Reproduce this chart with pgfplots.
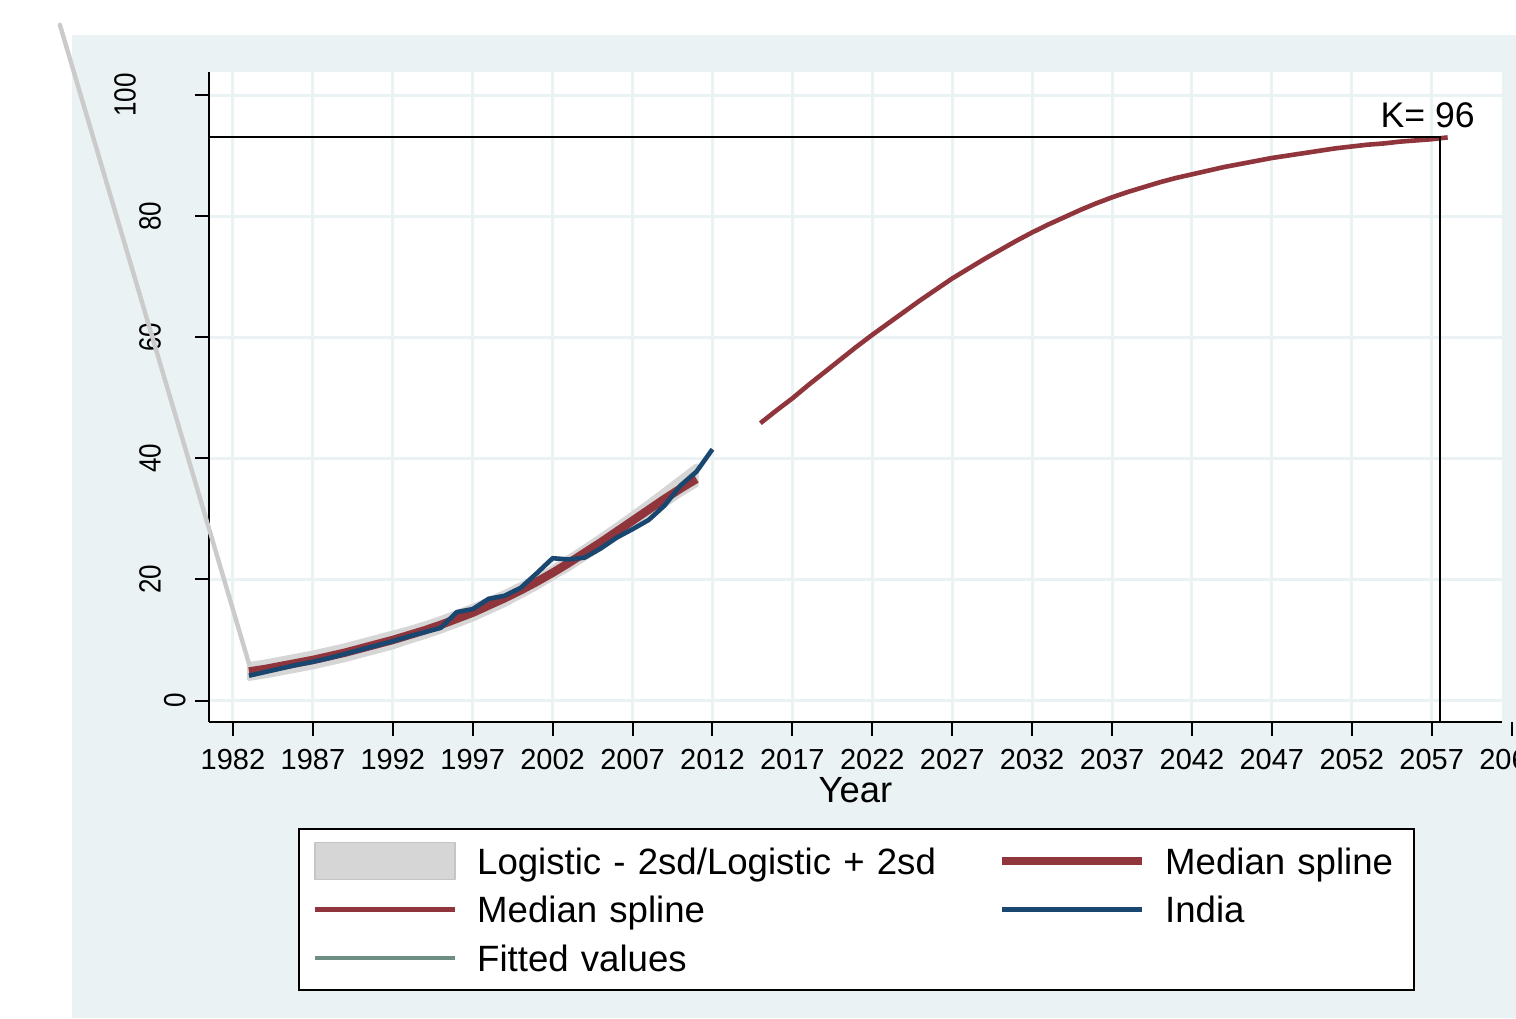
\documentclass[border=0pt]{standalone}
\usepackage{fontspec}
\setmainfont{Liberation Sans}
\usepackage{pgfplots}
\pgfplotsset{compat=1.18}

\definecolor{bgblue}{HTML}{EAF2F3}
\definecolor{stmaroon}{HTML}{90353B}
\definecolor{stnavy}{HTML}{1A476F}
\definecolor{stteal}{HTML}{6E8E84}
\definecolor{bandgray}{HTML}{D6D6D6}

% y tick labels: Stata sets them upright-stretched and staggered
\newcommand{\ylab}[2]{\raisebox{#1}{\scalebox{1}[1.18]{#2}}}

\begin{document}
\begin{tikzpicture}
\useasboundingbox (0,0) rectangle (758pt,-509pt);
\fill[white] (0,0) rectangle (758pt,-509pt);
\fill[bgblue] (36pt,-17.5pt) rectangle (758pt,-509pt);
\begin{axis}[
  at={(104.5pt,-361pt)}, anchor=south west,
  scale only axis, width=646.5pt, height=325pt,
  xmin=1980.5, xmax=2061.4, ymin=-3.55, ymax=103.8,
  clip=false,
  axis background/.style={fill=white},
  axis x line*=bottom, axis y line*=left,
  axis line style={-, black, line width=1pt},
  tick align=outside, major tick length=7pt,
  tick style={black, line width=1pt},
  grid=major, major grid style={bgblue, line width=1.5pt},
  xtick={1982,1987,...,2057},
  ytick={0,20,...,100},
  yticklabels={\ylab{0pt}{0},\ylab{12.5pt}{20},\ylab{12.5pt}{40},\ylab{12.5pt}{60},\ylab{12.5pt}{80},\ylab{25pt}{100}},
  /pgf/number format/1000 sep={},
  /pgf/number format/assume math mode=true,
  xticklabel style={font=\fontsize{14.5}{17}\selectfont, anchor=base, inner sep=0pt, yshift=-16.75pt},
  yticklabel style={font=\fontsize{13}{16}\selectfont, inner sep=0pt, xshift=-4.5pt, rotate=90, anchor=south},
  xlabel={Year},
  xlabel style={at={(axis description cs:0.5,0)}, anchor=base, inner sep=0pt, yshift=-40.25pt, font=\fontsize{18.2}{21}\selectfont},
  legend columns=2,
  legend image code/.code={\draw[#1] (0pt,0pt) -- (70pt,0pt);},
  legend style={at={(axis description cs:0.0696,-0.1646)}, anchor=north west,
    draw=black, line width=1pt, fill=white, outer sep=0pt,
    inner xsep=6.9pt, inner ysep=6.35pt, row sep=4.95pt,
    font=\fontsize{18.3}{22}\selectfont,
    cells={anchor=west},
    nodes={inner sep=0pt, text height=16.25pt, text depth=3.05pt},
    /tikz/column 1/.style={column sep=9.9pt},
    /tikz/column 2/.style={nodes={text width=260.4pt}},
    /tikz/column 3/.style={column sep=9.4pt},
    /tikz/column 4/.style={nodes={text width=117.6pt}}},
]
% confidence band (upper edge forward, lower edge back)
\addplot[fill=bandgray, draw=bandgray, line width=2.2pt, line join=round,
  legend image code/.code={\draw[fill=bandgray, draw=bandgray!92!black, line width=0.8pt] (0pt,-9.25pt) rectangle (70pt,9.25pt);}]
coordinates {
(1983,6.0) (1984,6.4) (1985,6.9) (1986,7.4) (1987,7.9) (1988,8.5) (1989,9.1)
(1990,9.8) (1991,10.5) (1992,11.2) (1993,11.9) (1994,12.7) (1995,13.6) (1996,14.6)
(1997,15.6) (1998,16.7) (1999,17.9) (2000,19.2) (2001,20.5) (2002,22.0) (2003,23.7)
(2004,25.4) (2005,27.2) (2006,29.0) (2007,30.9) (2008,32.8) (2009,34.8) (2010,36.8)
(2011,38.8)
(2011,35.6) (2010,34.0) (2009,32.2) (2008,30.4) (2007,28.6) (2006,26.8) (2005,25.1)
(2004,23.4) (2003,21.7) (2002,20.2) (2001,18.6) (2000,17.2) (1999,15.8) (1998,14.6)
(1997,13.4) (1996,12.4) (1995,11.4) (1994,10.5) (1993,9.7) (1992,8.8) (1991,8.1)
(1990,7.4) (1989,6.7) (1988,6.1) (1987,5.5) (1986,5.0) (1985,4.5) (1984,4.0)
(1983,3.6)
} -- cycle;
\addlegendentry{Logistic - 2sd/Logistic + 2sd}
% stray band edge running off the plot
\addplot[forget plot, bandgray!95!black, line width=2.2pt, line cap=round]
coordinates {(1971.17,111.6) (1983,6.1)};
% median spline, fitted part
\addplot[stmaroon, line width=4.2pt, line join=round]
coordinates {
(1983,4.8) (1984,5.2) (1985,5.7) (1986,6.2) (1987,6.7) (1988,7.3) (1989,7.9)
(1990,8.6) (1991,9.3) (1992,10.0) (1993,10.8) (1994,11.6) (1995,12.5) (1996,13.5)
(1997,14.5) (1998,15.7) (1999,16.9) (2000,18.2) (2001,19.6) (2002,21.1) (2003,22.7)
(2004,24.4) (2005,26.1) (2006,27.9) (2007,29.7) (2008,31.5) (2009,33.3) (2010,35.0)
(2011,36.6)
};
\addlegendentry{Median spline}
% median spline, projection
\addplot[stmaroon, line width=2.3pt, line join=round]
coordinates {
(2015,45.8) (2016,47.9) (2017,49.9) (2018,52.1) (2019,54.2) (2020,56.3) (2021,58.4)
(2022,60.4) (2023,62.3) (2024,64.2) (2025,66.1) (2026,67.9) (2027,69.7) (2028,71.3)
(2029,72.9) (2030,74.4) (2031,75.9) (2032,77.3) (2033,78.6) (2034,79.8) (2035,81.0)
(2036,82.1) (2037,83.1) (2038,84.0) (2039,84.8) (2040,85.6) (2041,86.3) (2042,86.9)
(2043,87.5) (2044,88.1) (2045,88.6) (2046,89.1) (2047,89.6) (2048,90.0) (2049,90.4)
(2050,90.8) (2051,91.2) (2052,91.5) (2053,91.8) (2054,92.0) (2055,92.3) (2056,92.5)
(2057,92.7) (2058,93.0)
};
\addlegendentry{Median spline}
% India
\addplot[stnavy, line width=2.3pt, line join=round]
coordinates {
(1983,4.1) (1984,4.7) (1985,5.3) (1986,5.9) (1987,6.4) (1988,7.0) (1989,7.7)
(1990,8.4) (1991,9.1) (1992,9.8) (1993,10.6) (1994,11.3) (1995,12.0) (1996,14.6)
(1997,15.1) (1998,16.8) (1999,17.3) (2000,18.6) (2001,21.0) (2002,23.5) (2003,23.3)
(2004,23.6) (2005,25.1) (2006,26.9) (2007,28.3) (2008,29.8) (2009,32.2) (2010,35.5)
(2011,37.8) (2012,41.5)
};
\addlegendentry{India}
\addlegendimage{stteal, line width=2.2pt}
\addlegendentry{Fitted values}
% saturation level K
\addplot[forget plot, black, line width=1pt]
coordinates {(1980.5,93.0) (2057.55,93.0) (2057.55,-3.55)};
\node[anchor=base west, inner sep=0pt, font=\fontsize{17.8}{20}\selectfont]
  at (axis cs:2053.78,94.7) {K= 96};
% last tick, beyond the end of the axis line
\draw[black, line width=1pt] (axis cs:2062,-3.55) -- ([yshift=-7pt]axis cs:2062,-3.55);
\node[anchor=base, inner sep=0pt, font=\fontsize{14.5}{17}\selectfont]
  at ([yshift=-23.75pt]axis cs:2062,-3.55) {2062};
\end{axis}
\end{tikzpicture}
\end{document}
